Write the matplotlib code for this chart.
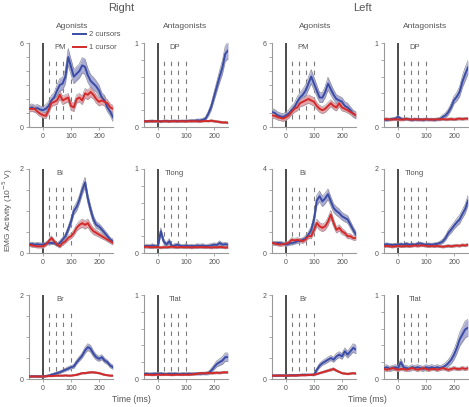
import numpy as np
import matplotlib
matplotlib.use("Agg")
import matplotlib.pyplot as plt
from matplotlib.ticker import FuncFormatter

plt.rcParams['font.family'] = ['Liberation Sans', 'DejaVu Sans']

# time axis (ms), one sample every 10 ms
t_ms = [-50, -40, -30, -20, -10, 0, 10, 20, 30, 40, 50, 60, 70, 80, 90, 100,
        110, 120, 130, 140, 150, 160, 170, 180, 190, 200, 210, 220, 230, 240, 250]
marker_ms = [20, 47, 73, 100]

# ---- Right arm ----
r_pm_two = [1.3, 1.4, 1.3, 1.35, 1.25, 1.2, 1.3, 1.5, 1.9, 2.1, 2.6, 3.0, 3.1, 3.6, 5.0, 4.3,
            3.6, 3.8, 4.0, 4.4, 4.3, 3.7, 3.3, 3.1, 2.9, 2.6, 2.1, 1.9, 1.4, 1.1, 0.7]
r_pm_two_se = [0.25, 0.25, 0.25, 0.25, 0.25, 0.25, 0.3, 0.3, 0.35, 0.35, 0.4, 0.45, 0.45, 0.5, 0.6, 0.55,
               0.5, 0.5, 0.5, 0.55, 0.55, 0.5, 0.45, 0.45, 0.4, 0.4, 0.35, 0.35, 0.3, 0.3, 0.3]
r_pm_one = [1.3, 1.3, 1.3, 1.1, 0.95, 0.85, 0.8, 1.2, 1.7, 1.8, 1.9, 2.3, 1.9, 2.0, 2.1, 1.5,
            1.4, 2.0, 2.1, 1.9, 2.4, 2.3, 2.5, 2.3, 2.0, 1.8, 1.9, 1.8, 1.7, 1.4, 1.3]
r_pm_one_se = [0.2, 0.2, 0.2, 0.2, 0.2, 0.2, 0.2, 0.25, 0.25, 0.25, 0.3, 0.3, 0.3, 0.3, 0.3, 0.3,
               0.3, 0.3, 0.3, 0.3, 0.35, 0.35, 0.35, 0.3, 0.3, 0.3, 0.3, 0.3, 0.25, 0.25, 0.25]

r_dp_two = [0.07, 0.065, 0.07, 0.072, 0.068, 0.07, 0.066, 0.07, 0.072, 0.068, 0.07, 0.073, 0.069, 0.07, 0.072, 0.071,
            0.073, 0.075, 0.074, 0.08, 0.078, 0.085, 0.1, 0.16, 0.24, 0.36, 0.48, 0.6, 0.71, 0.87, 0.91]
r_dp_two_se = [0.012, 0.012, 0.012, 0.012, 0.012, 0.012, 0.012, 0.012, 0.012, 0.012, 0.012, 0.012, 0.012, 0.012, 0.012, 0.012,
               0.012, 0.012, 0.014, 0.015, 0.016, 0.018, 0.02, 0.03, 0.04, 0.05, 0.06, 0.07, 0.08, 0.09, 0.1]
r_dp_one = [0.065, 0.07, 0.068, 0.066, 0.07, 0.068, 0.065, 0.07, 0.068, 0.066, 0.07, 0.068, 0.067, 0.07, 0.068, 0.066,
            0.07, 0.068, 0.07, 0.068, 0.066, 0.07, 0.072, 0.07, 0.075, 0.07, 0.065, 0.06, 0.055, 0.055, 0.05]
r_dp_one_se = [0.01, 0.01, 0.01, 0.01, 0.01, 0.01, 0.01, 0.01, 0.01, 0.01, 0.01, 0.01, 0.01, 0.01, 0.01, 0.01,
               0.01, 0.01, 0.01, 0.01, 0.01, 0.01, 0.01, 0.01, 0.012, 0.012, 0.012, 0.012, 0.012, 0.012, 0.012]

r_bi_two = [0.2, 0.22, 0.2, 0.21, 0.2, 0.2, 0.22, 0.24, 0.24, 0.24, 0.2, 0.24, 0.32, 0.4, 0.56, 0.75,
            1.0, 1.1, 1.27, 1.5, 1.68, 1.3, 1.03, 0.8, 0.67, 0.63, 0.56, 0.48, 0.4, 0.32, 0.28]
r_bi_two_se = [0.04, 0.04, 0.04, 0.04, 0.04, 0.04, 0.04, 0.04, 0.04, 0.04, 0.04, 0.05, 0.05, 0.06, 0.07, 0.08,
               0.09, 0.1, 0.1, 0.11, 0.12, 0.11, 0.1, 0.09, 0.08, 0.07, 0.07, 0.06, 0.06, 0.05, 0.05]
r_bi_one = [0.2, 0.18, 0.17, 0.16, 0.16, 0.16, 0.2, 0.28, 0.36, 0.28, 0.2, 0.16, 0.24, 0.28, 0.36, 0.4,
            0.48, 0.6, 0.67, 0.71, 0.67, 0.71, 0.6, 0.52, 0.48, 0.44, 0.4, 0.36, 0.32, 0.28, 0.24]
r_bi_one_se = [0.04, 0.04, 0.04, 0.04, 0.04, 0.04, 0.04, 0.04, 0.05, 0.04, 0.04, 0.04, 0.05, 0.05, 0.06, 0.06,
               0.07, 0.08, 0.09, 0.1, 0.1, 0.1, 0.09, 0.08, 0.07, 0.06, 0.06, 0.05, 0.05, 0.05, 0.05]

r_tlong_two = [0.08, 0.085, 0.08, 0.09, 0.08, 0.08, 0.26, 0.14, 0.1, 0.14, 0.08, 0.09, 0.1, 0.085, 0.08, 0.09,
               0.08, 0.085, 0.08, 0.09, 0.085, 0.09, 0.08, 0.085, 0.09, 0.1, 0.095, 0.12, 0.1, 0.105, 0.1]
r_tlong_two_se = [0.02, 0.02, 0.02, 0.02, 0.02, 0.02, 0.04, 0.03, 0.02, 0.03, 0.02, 0.02, 0.02, 0.02, 0.02, 0.02,
                  0.02, 0.02, 0.02, 0.02, 0.02, 0.02, 0.02, 0.02, 0.02, 0.02, 0.02, 0.025, 0.02, 0.02, 0.02]
r_tlong_one = [0.07, 0.075, 0.07, 0.068, 0.072, 0.07, 0.065, 0.07, 0.068, 0.072, 0.075, 0.07, 0.068, 0.072, 0.07, 0.068,
               0.07, 0.065, 0.07, 0.068, 0.072, 0.07, 0.068, 0.07, 0.065, 0.07, 0.068, 0.072, 0.07, 0.065, 0.068]
r_tlong_one_se = [0.015, 0.015, 0.015, 0.015, 0.015, 0.015, 0.015, 0.015, 0.015, 0.015, 0.015, 0.015, 0.015, 0.015, 0.015, 0.015,
                  0.015, 0.015, 0.015, 0.015, 0.015, 0.015, 0.015, 0.015, 0.015, 0.015, 0.015, 0.015, 0.015, 0.015, 0.015]

r_br_two = [0.06, 0.06, 0.065, 0.06, 0.06, 0.06, 0.07, 0.08, 0.1, 0.12, 0.14, 0.16, 0.19, 0.22, 0.25, 0.28,
            0.3, 0.4, 0.48, 0.56, 0.68, 0.76, 0.72, 0.6, 0.52, 0.48, 0.52, 0.44, 0.4, 0.32, 0.28]
r_br_two_se = [0.02, 0.02, 0.02, 0.02, 0.02, 0.02, 0.02, 0.02, 0.025, 0.025, 0.03, 0.03, 0.03, 0.035, 0.04, 0.04,
               0.045, 0.05, 0.055, 0.06, 0.07, 0.08, 0.08, 0.07, 0.065, 0.06, 0.06, 0.055, 0.05, 0.05, 0.05]
r_br_one = [0.06, 0.06, 0.06, 0.06, 0.06, 0.06, 0.065, 0.07, 0.07, 0.075, 0.08, 0.08, 0.08, 0.085, 0.08, 0.08,
            0.09, 0.1, 0.12, 0.14, 0.14, 0.15, 0.16, 0.16, 0.15, 0.14, 0.12, 0.1, 0.09, 0.08, 0.08]
r_br_one_se = [0.015, 0.015, 0.015, 0.015, 0.015, 0.015, 0.015, 0.015, 0.015, 0.015, 0.015, 0.015, 0.015, 0.015, 0.015, 0.015,
               0.015, 0.02, 0.02, 0.02, 0.02, 0.02, 0.02, 0.02, 0.02, 0.02, 0.02, 0.02, 0.015, 0.015, 0.015]

r_tlat_two = [0.06, 0.062, 0.058, 0.06, 0.063, 0.06, 0.065, 0.06, 0.058, 0.062, 0.06, 0.063, 0.06, 0.058, 0.062, 0.06,
              0.063, 0.06, 0.062, 0.065, 0.063, 0.066, 0.065, 0.07, 0.1, 0.14, 0.18, 0.2, 0.22, 0.26, 0.26]
r_tlat_two_se = [0.015, 0.015, 0.015, 0.015, 0.015, 0.015, 0.015, 0.015, 0.015, 0.015, 0.015, 0.015, 0.015, 0.015, 0.015, 0.015,
                 0.015, 0.015, 0.015, 0.015, 0.015, 0.015, 0.015, 0.02, 0.025, 0.03, 0.035, 0.04, 0.045, 0.05, 0.05]
r_tlat_one = [0.05, 0.052, 0.05, 0.048, 0.05, 0.052, 0.05, 0.05, 0.052, 0.05, 0.048, 0.05, 0.052, 0.05, 0.05, 0.052,
              0.05, 0.055, 0.058, 0.06, 0.07, 0.068, 0.07, 0.072, 0.07, 0.072, 0.075, 0.072, 0.078, 0.08, 0.08]
r_tlat_one_se = [0.01, 0.01, 0.01, 0.01, 0.01, 0.01, 0.01, 0.01, 0.01, 0.01, 0.01, 0.01, 0.01, 0.01, 0.01, 0.01,
                 0.01, 0.01, 0.01, 0.01, 0.012, 0.012, 0.012, 0.012, 0.012, 0.012, 0.012, 0.012, 0.012, 0.012, 0.012]

# ---- Left arm ----
l_pm_two = [1.07, 1.0, 0.83, 0.75, 0.7, 0.83, 0.95, 1.2, 1.4, 1.8, 2.1, 2.3, 2.6, 3.1, 3.6, 3.1,
            2.6, 2.1, 2.1, 2.5, 3.1, 2.7, 2.3, 2.0, 1.9, 1.8, 1.5, 1.4, 1.2, 0.95, 0.83]
l_pm_two_se = [0.25, 0.25, 0.25, 0.25, 0.25, 0.25, 0.25, 0.3, 0.3, 0.35, 0.35, 0.4, 0.4, 0.45, 0.5, 0.45,
               0.4, 0.35, 0.35, 0.4, 0.45, 0.4, 0.35, 0.3, 0.3, 0.3, 0.3, 0.3, 0.25, 0.25, 0.25]
l_pm_one = [0.83, 0.8, 0.7, 0.65, 0.6, 0.7, 0.83, 1.07, 1.3, 1.4, 1.7, 1.8, 1.9, 2.0, 1.9, 1.8,
            1.5, 1.3, 1.2, 1.3, 1.5, 1.7, 1.5, 1.4, 1.7, 1.4, 1.3, 1.2, 1.07, 0.95, 0.83]
l_pm_one_se = [0.2, 0.2, 0.2, 0.2, 0.2, 0.2, 0.2, 0.2, 0.25, 0.25, 0.25, 0.3, 0.3, 0.3, 0.3, 0.3,
               0.25, 0.25, 0.25, 0.25, 0.25, 0.25, 0.25, 0.25, 0.25, 0.25, 0.2, 0.2, 0.2, 0.2, 0.2]

l_dp_two = [0.09, 0.085, 0.09, 0.095, 0.1, 0.12, 0.1, 0.09, 0.095, 0.09, 0.085, 0.09, 0.088, 0.09, 0.085, 0.09,
            0.088, 0.09, 0.085, 0.09, 0.095, 0.12, 0.14, 0.18, 0.24, 0.32, 0.36, 0.42, 0.54, 0.63, 0.71]
l_dp_two_se = [0.015, 0.015, 0.015, 0.015, 0.015, 0.02, 0.015, 0.015, 0.015, 0.015, 0.015, 0.015, 0.015, 0.015, 0.015, 0.015,
               0.015, 0.015, 0.015, 0.015, 0.02, 0.025, 0.03, 0.035, 0.04, 0.045, 0.05, 0.06, 0.07, 0.08, 0.08]
l_dp_one = [0.09, 0.095, 0.088, 0.09, 0.092, 0.09, 0.088, 0.09, 0.095, 0.09, 0.088, 0.092, 0.09, 0.088, 0.09, 0.092,
            0.09, 0.088, 0.09, 0.092, 0.09, 0.095, 0.09, 0.092, 0.095, 0.09, 0.095, 0.1, 0.095, 0.1, 0.1]
l_dp_one_se = [0.015, 0.015, 0.015, 0.015, 0.015, 0.015, 0.015, 0.015, 0.015, 0.015, 0.015, 0.015, 0.015, 0.015, 0.015, 0.015,
               0.015, 0.015, 0.015, 0.015, 0.015, 0.015, 0.015, 0.015, 0.015, 0.015, 0.015, 0.015, 0.015, 0.015, 0.015]

l_bi_two = [0.48, 0.46, 0.48, 0.47, 0.44, 0.4, 0.44, 0.48, 0.5, 0.56, 0.58, 0.63, 0.7, 0.87, 1.1, 1.6,
            2.5, 2.7, 2.46, 2.6, 2.8, 2.46, 2.14, 2.0, 1.9, 1.75, 1.67, 1.6, 1.35, 1.1, 0.87]
l_bi_two_se = [0.08, 0.08, 0.08, 0.08, 0.08, 0.08, 0.08, 0.08, 0.08, 0.1, 0.1, 0.1, 0.12, 0.14, 0.16, 0.2,
               0.25, 0.25, 0.25, 0.25, 0.25, 0.22, 0.2, 0.2, 0.2, 0.18, 0.18, 0.18, 0.16, 0.15, 0.15]
l_bi_one = [0.48, 0.45, 0.42, 0.4, 0.42, 0.45, 0.5, 0.63, 0.6, 0.63, 0.6, 0.56, 0.65, 0.8, 0.8, 1.1,
            1.43, 1.27, 1.2, 1.27, 1.5, 1.83, 1.43, 1.1, 1.2, 1.03, 0.95, 0.8, 0.8, 0.71, 0.71]
l_bi_one_se = [0.08, 0.08, 0.08, 0.08, 0.08, 0.08, 0.08, 0.1, 0.1, 0.1, 0.1, 0.1, 0.1, 0.12, 0.12, 0.15,
               0.18, 0.18, 0.18, 0.18, 0.2, 0.2, 0.18, 0.15, 0.15, 0.15, 0.12, 0.12, 0.12, 0.1, 0.1]

l_tlong_two = [0.2, 0.21, 0.2, 0.19, 0.2, 0.2, 0.21, 0.2, 0.22, 0.2, 0.21, 0.2, 0.22, 0.23, 0.21, 0.2,
               0.21, 0.2, 0.21, 0.22, 0.24, 0.28, 0.36, 0.48, 0.56, 0.65, 0.73, 0.8, 0.93, 1.05, 1.25]
l_tlong_two_se = [0.03, 0.03, 0.03, 0.03, 0.03, 0.03, 0.03, 0.03, 0.03, 0.03, 0.03, 0.03, 0.03, 0.03, 0.03, 0.03,
                  0.03, 0.03, 0.03, 0.03, 0.04, 0.05, 0.06, 0.07, 0.08, 0.08, 0.09, 0.1, 0.1, 0.11, 0.12]
l_tlong_one = [0.16, 0.17, 0.16, 0.15, 0.16, 0.17, 0.16, 0.16, 0.17, 0.16, 0.17, 0.18, 0.17, 0.18, 0.18, 0.17,
               0.16, 0.17, 0.16, 0.17, 0.16, 0.15, 0.16, 0.17, 0.16, 0.17, 0.18, 0.17, 0.19, 0.18, 0.2]
l_tlong_one_se = [0.03, 0.03, 0.03, 0.03, 0.03, 0.03, 0.03, 0.03, 0.03, 0.03, 0.03, 0.03, 0.03, 0.03, 0.03, 0.03,
                  0.03, 0.03, 0.03, 0.03, 0.03, 0.03, 0.03, 0.03, 0.03, 0.03, 0.03, 0.03, 0.03, 0.03, 0.03]

l_br_two = [0.08, 0.08, 0.08, 0.085, 0.08, 0.08, 0.085, 0.09, 0.09, 0.09, 0.095, 0.1, 0.1, 0.1, 0.1, 0.1,
            0.22, 0.32, 0.38, 0.42, 0.46, 0.5, 0.46, 0.54, 0.58, 0.54, 0.66, 0.58, 0.66, 0.74, 0.7]
l_br_two_se = [0.02, 0.02, 0.02, 0.02, 0.02, 0.02, 0.02, 0.02, 0.02, 0.02, 0.02, 0.02, 0.02, 0.02, 0.02, 0.025,
               0.04, 0.05, 0.05, 0.06, 0.06, 0.06, 0.06, 0.07, 0.07, 0.07, 0.08, 0.08, 0.09, 0.1, 0.1]
l_br_one = [0.08, 0.08, 0.08, 0.08, 0.08, 0.08, 0.08, 0.085, 0.08, 0.085, 0.09, 0.09, 0.09, 0.095, 0.1, 0.1,
            0.12, 0.14, 0.16, 0.18, 0.2, 0.22, 0.24, 0.2, 0.17, 0.14, 0.13, 0.12, 0.13, 0.14, 0.13]
l_br_one_se = [0.015, 0.015, 0.015, 0.015, 0.015, 0.015, 0.015, 0.015, 0.015, 0.015, 0.015, 0.015, 0.015, 0.015, 0.015, 0.015,
               0.02, 0.02, 0.02, 0.025, 0.025, 0.03, 0.03, 0.025, 0.02, 0.02, 0.02, 0.02, 0.02, 0.02, 0.02]

l_tlat_two = [0.13, 0.14, 0.12, 0.13, 0.14, 0.13, 0.2, 0.14, 0.13, 0.12, 0.14, 0.13, 0.14, 0.13, 0.12, 0.14,
              0.13, 0.14, 0.13, 0.14, 0.13, 0.14, 0.16, 0.19, 0.23, 0.29, 0.37, 0.47, 0.53, 0.59, 0.61]
l_tlat_two_se = [0.03, 0.03, 0.03, 0.03, 0.03, 0.03, 0.04, 0.03, 0.03, 0.03, 0.03, 0.03, 0.03, 0.03, 0.03, 0.03,
                 0.03, 0.03, 0.03, 0.03, 0.03, 0.03, 0.035, 0.04, 0.05, 0.06, 0.07, 0.08, 0.09, 0.1, 0.1]
l_tlat_one = [0.12, 0.11, 0.12, 0.13, 0.12, 0.11, 0.12, 0.12, 0.11, 0.12, 0.13, 0.12, 0.11, 0.12, 0.13, 0.12,
              0.11, 0.12, 0.12, 0.11, 0.12, 0.13, 0.12, 0.11, 0.12, 0.13, 0.12, 0.12, 0.13, 0.12, 0.13]
l_tlat_one_se = [0.02, 0.02, 0.02, 0.02, 0.02, 0.02, 0.02, 0.02, 0.02, 0.02, 0.02, 0.02, 0.02, 0.02, 0.02, 0.02,
                 0.02, 0.02, 0.02, 0.02, 0.02, 0.02, 0.02, 0.02, 0.02, 0.02, 0.02, 0.02, 0.02, 0.02, 0.02]

muscles = ['PM', 'DP', 'Bi', 'Tlong', 'Br', 'Tlat']
y_tops_right = [6, 1, 2, 1, 2, 1]
y_tops_left = [6, 1, 4, 2, 2, 1]

# panel table: (row, col, muscle, ymax, two, two_se, one, one_se)
panels = [
    (0, 0, 'PM', 6, r_pm_two, r_pm_two_se, r_pm_one, r_pm_one_se),
    (0, 1, 'DP', 1, r_dp_two, r_dp_two_se, r_dp_one, r_dp_one_se),
    (1, 0, 'Bi', 2, r_bi_two, r_bi_two_se, r_bi_one, r_bi_one_se),
    (1, 1, 'Tlong', 1, r_tlong_two, r_tlong_two_se, r_tlong_one, r_tlong_one_se),
    (2, 0, 'Br', 2, r_br_two, r_br_two_se, r_br_one, r_br_one_se),
    (2, 1, 'Tlat', 1, r_tlat_two, r_tlat_two_se, r_tlat_one, r_tlat_one_se),
    (0, 2, 'PM', 6, l_pm_two, l_pm_two_se, l_pm_one, l_pm_one_se),
    (0, 3, 'DP', 1, l_dp_two, l_dp_two_se, l_dp_one, l_dp_one_se),
    (1, 2, 'Bi', 4, l_bi_two, l_bi_two_se, l_bi_one, l_bi_one_se),
    (1, 3, 'Tlong', 2, l_tlong_two, l_tlong_two_se, l_tlong_one, l_tlong_one_se),
    (2, 2, 'Br', 2, l_br_two, l_br_two_se, l_br_one, l_br_one_se),
    (2, 3, 'Tlat', 1, l_tlat_two, l_tlat_two_se, l_tlat_one, l_tlat_one_se),
]

BLUE = '#3a4ca6'
RED = '#d32a2a'
BLUE_BAND = '#aaacd6'
RED_BAND = '#e4a4aa'
EDGE = '#8e8e9a'
GREY_TXT = '#555555'

W, H = 469, 407
fig = plt.figure(figsize=(W / 100, H / 100), dpi=100)

col_left = [29, 144, 272, 384]
row_bottom = [127, 253, 379]
ax_w, ax_h = 84, 84
n_ticks = {6: 6, 1: 5, 2: 4, 4: 4}

t = np.array(t_ms)
legend_handles = None
for row, col, name, ymax, two, two_se, one, one_se in panels:
    ax = fig.add_axes([col_left[col] / W, 1 - row_bottom[row] / H, ax_w / W, ax_h / H])
    two, two_se = np.array(two), np.array(two_se)
    one, one_se = np.array(one), np.array(one_se)

    # event markers
    ax.axvline(0, color='#1a1a1a', lw=1.1, zorder=1)
    ax.vlines(marker_ms, 0.1, 0.82, transform=ax.get_xaxis_transform(),
              colors='#7a7a7a', lw=0.8, linestyles=(0, (4, 4)), zorder=1)

    # SE bands with grey edges
    ax.fill_between(t, two - two_se, two + two_se, color=BLUE_BAND, lw=0, zorder=2)
    ax.plot(t, two - two_se, color=EDGE, lw=0.5, zorder=2)
    ax.plot(t, two + two_se, color=EDGE, lw=0.5, zorder=2)
    ax.fill_between(t, one - one_se, one + one_se, color=RED_BAND, lw=0, zorder=3)
    ax.plot(t, one - one_se, color=EDGE, lw=0.4, zorder=3)
    ax.plot(t, one + one_se, color=EDGE, lw=0.4, zorder=3)
    l2, = ax.plot(t, two, color=BLUE, lw=1.4, zorder=4, label='2 cursors')
    l1, = ax.plot(t, one, color=RED, lw=1.4, zorder=5, label='1 cursor')
    if legend_handles is None:
        legend_handles = [l2, l1]

    ax.text(60, 0.95, name, transform=ax.get_xaxis_transform(), ha='center', va='center',
            fontsize=5.5, color=GREY_TXT)

    ax.set_xlim(-50, 250)
    ax.set_ylim(0, ymax)
    ax.set_xticks([0, 100, 200])
    ax.set_yticks(np.linspace(0, ymax, n_ticks[ymax] + 1))
    ax.yaxis.set_major_formatter(FuncFormatter(
        lambda v, pos, top=ymax: f'{v:g}' if (abs(v) < 1e-9 or abs(v - top) < 1e-9) else ''))
    for s in ['top', 'right']:
        ax.spines[s].set_visible(False)
    for s in ['left', 'bottom']:
        ax.spines[s].set_color('#9a9a9a')
        ax.spines[s].set_linewidth(0.8)
    ax.tick_params(length=2, width=0.6, color='#9a9a9a', labelsize=5, labelcolor=GREY_TXT, pad=2)

# legend in the first panel area
fig.legend(handles=legend_handles, loc='upper left', bbox_to_anchor=(73 / W, 1 - 31 / H),
           frameon=False, fontsize=5.5, handlelength=1.7, handletextpad=0.4,
           labelspacing=0.75, borderpad=0, borderaxespad=0, labelcolor=GREY_TXT)

# headings
fig.text(121 / W, 1 - 8 / H, 'Right', ha='center', va='center', fontsize=8, color=GREY_TXT)
fig.text(362 / W, 1 - 8 / H, 'Left', ha='center', va='center', fontsize=8, color=GREY_TXT)
for x, lab in zip([72, 185, 315, 425], ['Agonists', 'Antagonists', 'Agonists', 'Antagonists']):
    fig.text(x / W, 1 - 27 / H, lab, ha='center', va='center', fontsize=6, color=GREY_TXT)

fig.text(8 / W, 1 - 210 / H, 'EMG Activity (10$^{-5}$ V)', rotation=90, ha='center', va='center',
         fontsize=6, color=GREY_TXT)
fig.text(131 / W, 1 - 400 / H, 'Time (ms)', ha='center', va='center', fontsize=6.2, color=GREY_TXT)
fig.text(367 / W, 1 - 400 / H, 'Time (ms)', ha='center', va='center', fontsize=6.2, color=GREY_TXT)

fig.savefig('out.png', dpi=100)
